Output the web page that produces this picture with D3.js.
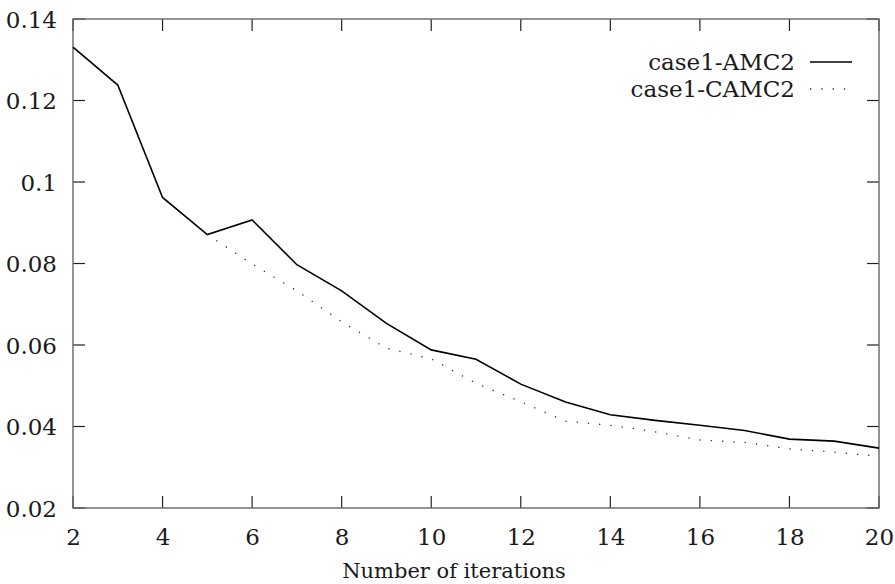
<!DOCTYPE html>
<html>
<head>
<meta charset="utf-8">
<script src="https://cdn.jsdelivr.net/npm/d3@7"></script>
<style>
  html, body { margin: 0; padding: 0; background: #fff; }
</style>
</head>
<body>
<svg id="chart" width="895" height="584"></svg>
<script>
// Iteration counts on the x axis
const iterations = [2, 3, 4, 5, 6, 7, 8, 9, 10, 11, 12, 13, 14, 15, 16, 17, 18, 19, 20];
// Error per iteration for each method
const amc2  = [0.1331, 0.1238, 0.0962, 0.0871, 0.0907, 0.0797, 0.0733, 0.0653, 0.0588, 0.0565,
               0.0504, 0.0460, 0.0429, 0.0415, 0.0403, 0.0390, 0.0369, 0.0364, 0.0347];
const camc2 = [0.1331, 0.1238, 0.0962, 0.0871, 0.0799, 0.0733, 0.0657, 0.0592, 0.0566, 0.0506,
               0.0461, 0.0413, 0.0403, 0.0387, 0.0367, 0.0361, 0.0345, 0.0337, 0.0327];
const seriesNames = ["case1-AMC2", "case1-CAMC2"];
const xTicks = [2, 4, 6, 8, 10, 12, 14, 16, 18, 20];
const yTicks = [0.02, 0.04, 0.06, 0.08, 0.1, 0.12, 0.14];
const xTitle = "Number of iterations";

const FONT = "DejaVu Serif";
const fontSize = 23;

const svg = d3.select("#chart");
const margin = { left: 73, top: 19, right: 16, bottom: 76 };
const W = 895, H = 584;
const x = d3.scaleLinear().domain([2, 20]).range([margin.left, W - margin.right]);
const y = d3.scaleLinear().domain([0.02, 0.14]).range([H - margin.bottom, margin.top]);

const tickLen = 12;
const x0 = x.range()[0], x1 = x.range()[1];
const y0 = y.range()[0], y1 = y.range()[1];

function styleText(sel, size = fontSize) {
  sel.attr("font-family", FONT)
     .attr("font-size", size)
     .style("font-family", FONT)
     .style("font-size", size + "px")
     .attr("fill", "#1a1a1a");
}

// Bottom and left axes: labels only, ticks drawn inward below
const bottom = d3.axisBottom(x).tickValues(xTicks).tickSize(0).tickPadding(21)
  .tickFormat(d3.format("d"));
svg.append("g").attr("transform", `translate(0,${y0})`).call(bottom)
  .attr("font-family", FONT).attr("font-size", fontSize)
  .call(g => g.select(".domain").remove())
  .call(g => g.selectAll("text").call(styleText));

const left = d3.axisLeft(y).tickValues(yTicks).tickSize(0).tickPadding(16)
  .tickFormat(d => String(+d.toFixed(2)));
svg.append("g").attr("transform", `translate(${x0},0)`).call(left)
  .attr("font-family", FONT).attr("font-size", fontSize)
  .call(g => g.select(".domain").remove())
  .call(g => g.selectAll("text").call(styleText).attr("dy", "0.36em"));

// Inward ticks on all four sides
const ticks = svg.append("g").attr("stroke", "#222").attr("stroke-width", 1.2);
xTicks.forEach(v => {
  ticks.append("line").attr("x1", x(v)).attr("x2", x(v)).attr("y1", y0).attr("y2", y0 - tickLen);
  ticks.append("line").attr("x1", x(v)).attr("x2", x(v)).attr("y1", y1).attr("y2", y1 + tickLen);
});
yTicks.forEach(v => {
  ticks.append("line").attr("x1", x0).attr("x2", x0 + tickLen).attr("y1", y(v)).attr("y2", y(v));
  ticks.append("line").attr("x1", x1).attr("x2", x1 - tickLen).attr("y1", y(v)).attr("y2", y(v));
});

// Plot border
svg.append("rect")
  .attr("x", x0).attr("y", y1).attr("width", x1 - x0).attr("height", y0 - y1)
  .attr("fill", "none").attr("stroke", "#666").attr("stroke-width", 1.4);

// Axis title
svg.append("text")
  .attr("x", 454).attr("y", 578)
  .attr("text-anchor", "middle")
  .call(styleText, 21)
  .text(xTitle);

// Series lines
const line = d3.line().x(d => x(d[0])).y(d => y(d[1]));
const styles = [
  { stroke: "#000", width: 1.6, dash: null },
  { stroke: "#333", width: 1.3, dash: "1.3,10" }
];
const seriesData = [amc2, camc2];

seriesData.forEach((vals, i) => {
  svg.append("path")
    .datum(iterations.map((it, k) => [it, vals[k]]))
    .attr("d", line)
    .attr("fill", "none")
    .attr("stroke", styles[i].stroke)
    .attr("stroke-width", styles[i].width)
    .attr("stroke-dasharray", styles[i].dash)
    .attr("stroke-linejoin", "miter");
});

// Key
const keyRows = [62, 89];
seriesNames.forEach((name, i) => {
  svg.append("text")
    .attr("x", 795).attr("y", keyRows[i]).attr("dy", "0.34em")
    .attr("text-anchor", "end")
    .call(styleText)
    .text(name);
  svg.append("line")
    .attr("x1", 810).attr("x2", 852).attr("y1", keyRows[i]).attr("y2", keyRows[i])
    .attr("stroke", styles[i].stroke)
    .attr("stroke-width", styles[i].width)
    .attr("stroke-dasharray", styles[i].dash);
});
</script>
</body>
</html>
